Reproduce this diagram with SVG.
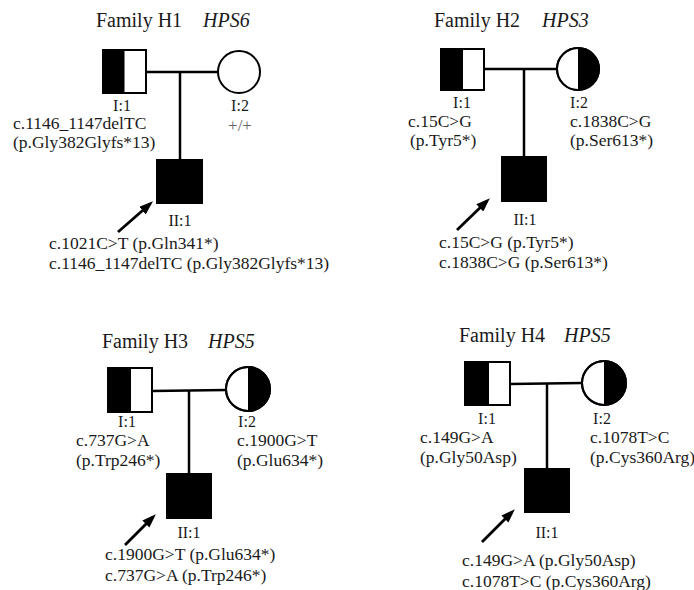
<svg xmlns="http://www.w3.org/2000/svg" width="694" height="590" viewBox="0 0 694 590">
<defs>
<style>
text{font-family:"Liberation Serif","Times New Roman",serif;fill:#1a1a1a}
.title{font-size:20px}
.gene{font-size:20px;font-style:italic}
.id{font-size:16px;text-anchor:middle}
.mut{font-size:17.5px}
.wt{font-size:17px;fill:#666;text-anchor:middle}
.sym{fill:#fff;stroke:#000;stroke-width:2}
.aff{fill:#000;stroke:#000;stroke-width:2}
.half{fill:#000;stroke:none}
.ln{stroke:#000;stroke-width:2.5;fill:none}
.arr{stroke:#000;stroke-width:2.8;fill:none;marker-end:url(#ah)}
</style>
<marker id="ah" markerUnits="userSpaceOnUse" markerWidth="14" markerHeight="10" refX="10" refY="5" orient="auto">
<path d="M0,0 L14,5 L0,10 Z" fill="#000"/>
</marker>
</defs>
<rect width="694" height="590" fill="#fff"/>

<!-- Family H1 -->
<g id="h1-title"><text class="title" x="96" y="27">Family H1</text><text class="gene" x="203" y="27">HPS6</text></g>
<g id="h1-I1"><rect class="sym" x="103" y="50" width="43" height="43"/><rect class="half" x="103" y="50" width="21.5" height="43"/><rect x="103" y="50" width="43" height="43" fill="none" stroke="#000" stroke-width="2"/>
<text class="id" x="122" y="111">I:1</text><text class="mut" x="13" y="129">c.1146_1147delTC</text><text class="mut" x="13" y="148">(p.Gly382Glyfs*13)</text></g>
<g id="h1-I2"><circle class="sym" cx="239" cy="72" r="21"/>
<text class="id" x="240" y="111">I:2</text><text class="wt" x="240" y="131">+/+</text></g>
<g id="h1-II1"><rect class="aff" x="157" y="160" width="45" height="43"/>
<text class="id" x="180" y="226">II:1</text><text class="mut" x="49" y="249">c.1021C&gt;T (p.Gln341*)</text><text class="mut" x="49" y="269">c.1146_1147delTC (p.Gly382Glyfs*13)</text></g>

<!-- Family H2 -->
<g id="h2-title"><text class="title" x="434" y="27">Family H2</text><text class="gene" x="542" y="27">HPS3</text></g>
<g id="h2-I1"><rect class="sym" x="441" y="49" width="43" height="41"/><rect class="half" x="441" y="49" width="22" height="41"/><rect x="441" y="49" width="43" height="41" fill="none" stroke="#000" stroke-width="2"/>
<text class="id" x="462" y="108">I:1</text><text class="mut" x="408" y="127">c.15C&gt;G</text><text class="mut" x="410" y="146">(p.Tyr5*)</text></g>
<g id="h2-I2"><circle class="sym" cx="578" cy="69" r="21"/><path class="half" d="M578,48 A21,21 0 0 1 578,90 Z"/><circle cx="578" cy="69" r="21" fill="none" stroke="#000" stroke-width="2"/>
<text class="id" x="579" y="108">I:2</text><text class="mut" x="570" y="127">c.1838C&gt;G</text><text class="mut" x="570" y="146">(p.Ser613*)</text></g>
<g id="h2-II1"><rect class="aff" x="502" y="157" width="44" height="44"/>
<text class="id" x="525" y="225">II:1</text><text class="mut" x="439" y="248">c.15C&gt;G (p.Tyr5*)</text><text class="mut" x="439" y="268">c.1838C&gt;G (p.Ser613*)</text></g>

<!-- Family H3 -->
<g id="h3-title"><text class="title" x="102" y="348">Family H3</text><text class="gene" x="208" y="348">HPS5</text></g>
<g id="h3-I1"><rect class="sym" x="108" y="368" width="44" height="44"/><rect class="half" x="108" y="368" width="23" height="44"/><rect x="108" y="368" width="44" height="44" fill="none" stroke="#000" stroke-width="2"/>
<text class="id" x="127" y="427">I:1</text><text class="mut" x="76" y="446">c.737G&gt;A</text><text class="mut" x="76" y="466">(p.Trp246*)</text></g>
<g id="h3-I2"><circle class="sym" cx="248" cy="389" r="22"/><path class="half" d="M248,367 A22,22 0 0 1 248,411 Z"/><circle cx="248" cy="389" r="22" fill="none" stroke="#000" stroke-width="2"/>
<text class="id" x="247" y="427">I:2</text><text class="mut" x="237" y="446">c.1900G&gt;T</text><text class="mut" x="237" y="466">(p.Glu634*)</text></g>
<g id="h3-II1"><rect class="aff" x="167" y="474" width="44" height="44"/>
<text class="id" x="189" y="538">II:1</text><text class="mut" x="105" y="560">c.1900G&gt;T (p.Glu634*)</text><text class="mut" x="105" y="581">c.737G&gt;A (p.Trp246*)</text></g>

<!-- Family H4 -->
<g id="h4-title"><text class="title" x="459" y="342">Family H4</text><text class="gene" x="564" y="342">HPS5</text></g>
<g id="h4-I1"><rect class="sym" x="465" y="362" width="45" height="43"/><rect class="half" x="465" y="362" width="24" height="43"/><rect x="465" y="362" width="45" height="43" fill="none" stroke="#000" stroke-width="2"/>
<text class="id" x="487" y="424">I:1</text><text class="mut" x="420" y="443">c.149G&gt;A</text><text class="mut" x="420" y="463">(p.Gly50Asp)</text></g>
<g id="h4-I2"><circle class="sym" cx="604" cy="383" r="22"/><path class="half" d="M604,361 A22,22 0 0 1 604,405 Z"/><circle cx="604" cy="383" r="22" fill="none" stroke="#000" stroke-width="2"/>
<text class="id" x="602" y="424">I:2</text><text class="mut" x="590" y="443">c.1078T&gt;C</text><text class="mut" x="590" y="463">(p.Cys360Arg)</text></g>
<g id="h4-II1"><rect class="aff" x="525" y="469" width="44" height="43"/>
<text class="id" x="547" y="538">II:1</text><text class="mut" x="462" y="566">c.149G&gt;A (p.Gly50Asp)</text><text class="mut" x="462" y="587">c.1078T&gt;C (p.Cys360Arg)</text></g>

<g id="connectors">
<line class="ln" x1="146" y1="72" x2="218" y2="72"/>
<line class="ln" x1="180" y1="72" x2="180" y2="160"/>
<line class="ln" x1="484" y1="69" x2="557" y2="69"/>
<line class="ln" x1="524" y1="69" x2="524" y2="157"/>
<line class="ln" x1="152" y1="391" x2="226" y2="390"/>
<line class="ln" x1="189" y1="391" x2="189" y2="474"/>
<line class="ln" x1="510" y1="384" x2="582" y2="383"/>
<line class="ln" x1="547" y1="384" x2="547" y2="469"/>
<line class="arr" x1="118" y1="232" x2="150" y2="204"/>
<line class="arr" x1="457" y1="230" x2="487" y2="201"/>
<line class="arr" x1="125" y1="545" x2="153" y2="517"/>
<line class="arr" x1="482" y1="542" x2="512" y2="512"/>
</g>
</svg>
